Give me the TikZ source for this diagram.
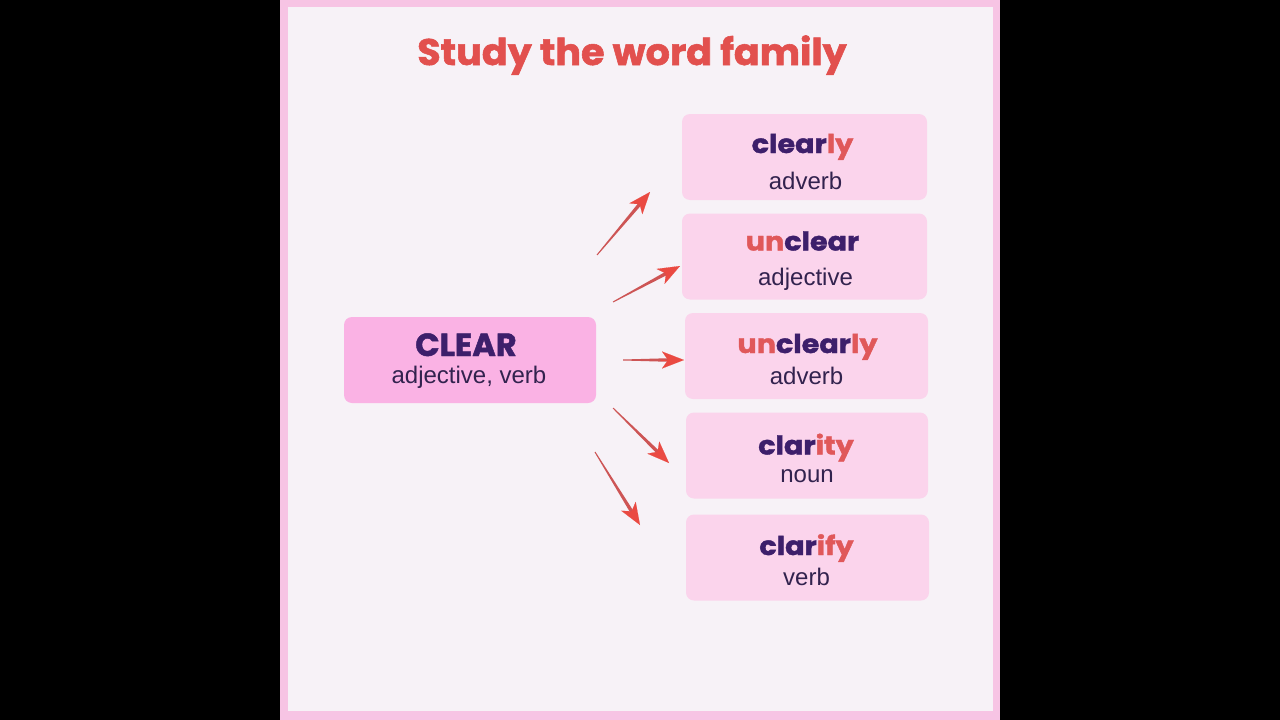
\documentclass[tikz,border=0pt]{standalone}
\usepackage{fontspec}
\setmainfont{Liberation Sans}
\newfontfamily\wordfont[BoldFeatures={FakeBold=1.5}]{Poppins}
\usetikzlibrary{arrows.meta,calc}
\definecolor{framec}{RGB}{247,196,228}
\definecolor{paperc}{RGB}{247,242,247}
\definecolor{mainboxc}{RGB}{250,178,228}
\definecolor{subboxc}{RGB}{251,212,236}
\definecolor{wordc}{RGB}{61,31,107}
\definecolor{sufc}{RGB}{224,88,90}
\definecolor{labc}{RGB}{50,34,78}
\definecolor{titlec}{RGB}{226,80,78}
\definecolor{arrowc}{RGB}{234,74,66}
\definecolor{shaftc}{RGB}{205,85,85}
\tikzset{
  mainbox/.style={fill=mainboxc, rounded corners=8pt, minimum width=252pt, minimum height=86pt, inner sep=0pt},
  subbox/.style={fill=subboxc, rounded corners=8pt, minimum width=245pt, minimum height=86pt, inner sep=0pt},
  wordtxt/.style={anchor=base, inner sep=0pt, font=\wordfont\bfseries\fontsize{26}{30}\selectfont, text=wordc},
  bigword/.style={anchor=base, inner sep=0pt, font=\wordfont\bfseries\fontsize{32}{36}\selectfont, text=wordc},
  labtxt/.style={anchor=base, inner sep=0pt, font=\fontsize{24}{28}\selectfont, text=labc},
  titletxt/.style={anchor=base, inner sep=0pt, font=\wordfont\bfseries\fontsize{37}{40}\selectfont, text=titlec},
  arrhead/.style={draw=arrowc, fill=arrowc, line width=0.1pt, -{Stealth[length=22pt,width=17pt,inset=6pt]}},
  shaft/.style={fill=shaftc}
}
\newcommand\taperarr[2]{%
  \coordinate (#1h) at ($(#2)!15pt!(#1)$);
  \fill[shaft] ($(#1)!0.5pt!90:(#2)$) -- ($(#1h)!1.8pt!-90:(#1)$) -- ($(#1h)!1.8pt!90:(#1)$) -- ($(#1)!0.5pt!-90:(#2)$) -- cycle;
  \draw[arrhead] ($(#2)!23pt!(#1)$) -- (#2);
}
\begin{document}
\begin{tikzpicture}[x=1pt,y=-1pt]
\useasboundingbox (0,0) rectangle (1280,720);
\fill[black] (0,0) rectangle (1280,720);
\fill[framec] (280,0) rectangle (1000,720);
\fill[paperc] (288,7) rectangle (993,711);

\node[titletxt] (title) at (632,65) {\scalebox{1.03}[1]{Study the word family}};

\node[mainbox] (clear) at (470,360) {};
\node[bigword] (clearw) at ($(clear.center)+(-4,-4)$) {CLEAR};
\node[labtxt] (clearl) at ($(clear.center)+(-1,23)$) {adjective, verb};

\node[subbox] (b1) at (804.5,157) {};
\node[subbox] (b2) at (804.5,256.5) {};
\node[subbox, minimum width=243pt] (b3) at (806.5,356) {};
\node[subbox, minimum width=242pt] (b4) at (807,455.5) {};
\node[subbox, minimum width=243pt] (b5) at (807.5,557.5) {};

\node[wordtxt] (w1) at ($(b1.center)+(-2,-4)$) {\scalebox{1.1}[1]{clear{\color{sufc}ly}}};
\node[labtxt] (l1) at ($(b1.center)+(1,32)$) {adverb};
\node[wordtxt] (w2) at ($(b2.center)+(-2,-6)$) {\scalebox{1.1}[1]{{\color{sufc}un}clear}};
\node[labtxt] (l2) at ($(b2.center)+(1,28.5)$) {adjective};
\node[wordtxt] (w3) at ($(b3.center)+(1,-3)$) {\scalebox{1.1}[1]{{\color{sufc}un}clear{\color{sufc}ly}}};
\node[labtxt] (l3) at ($(b3.center)+(0,28)$) {adverb};
\node[wordtxt] (w4) at ($(b4.center)+(-1,-1)$) {\scalebox{1.1}[1]{clar{\color{sufc}ity}}};
\node[labtxt] (l4) at ($(b4.center)+(0,27)$) {noun};
\node[wordtxt] (w5) at ($(b5.center)+(-1,-2.5)$) {\scalebox{1.1}[1]{clar{\color{sufc}ify}}};
\node[labtxt] (l5) at ($(b5.center)+(-1,27.5)$) {verb};

\coordinate (a1s) at (597,255); \coordinate (a1e) at (650,192);
\coordinate (a2s) at (613,302); \coordinate (a2e) at (680,266);
\coordinate (a3s) at (623,360); \coordinate (a3e) at (684,360);
\coordinate (a4s) at (613,408); \coordinate (a4e) at (669,463);
\coordinate (a5s) at (595,452); \coordinate (a5e) at (640,525);
\taperarr{a1s}{a1e}
\taperarr{a2s}{a2e}
\taperarr{a3s}{a3e}
\taperarr{a4s}{a4e}
\taperarr{a5s}{a5e}
\end{tikzpicture}
\end{document}
